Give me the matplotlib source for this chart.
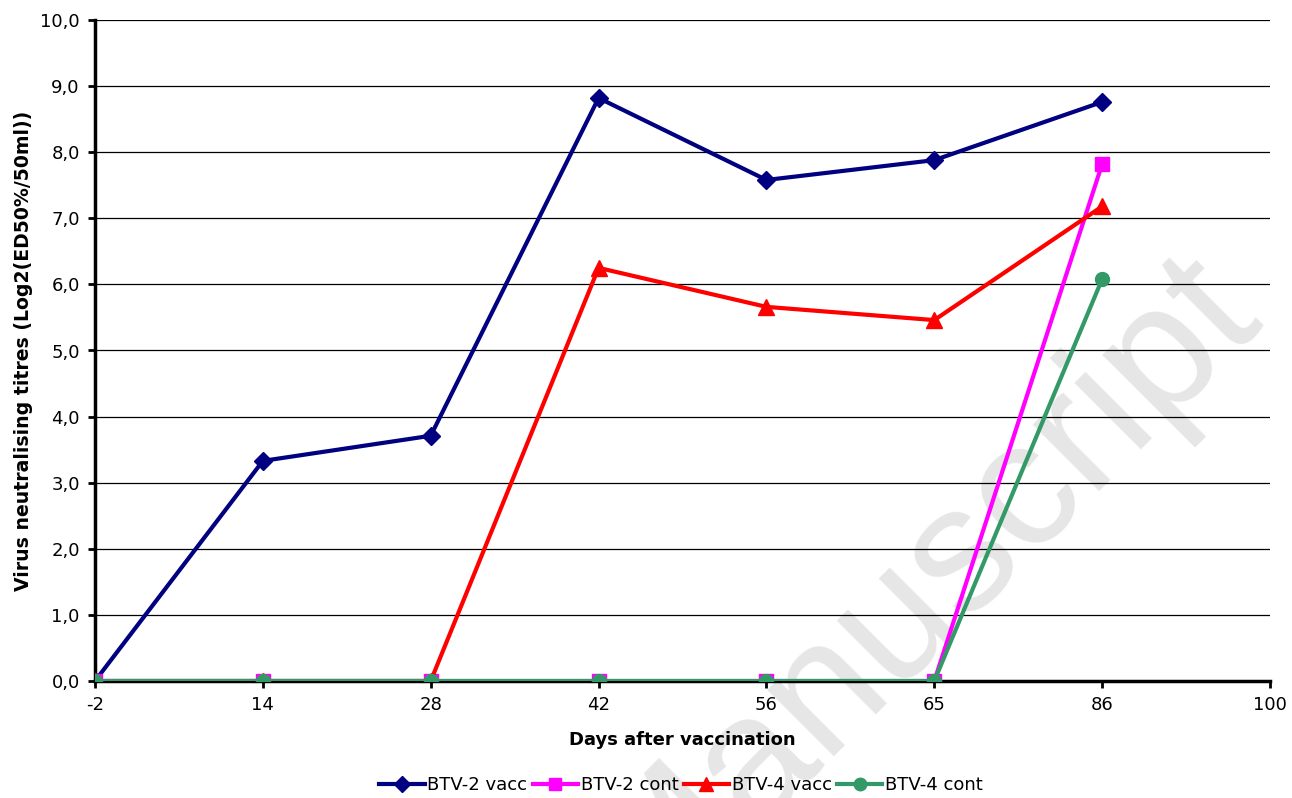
import numpy as np
import matplotlib
matplotlib.use('Agg')
import matplotlib.pyplot as plt

# days after vaccination (categorical axis)
days = ['-2', '14', '28', '42', '56', '65', '86', '100']

btv2_vacc = [0.0, 3.33, 3.71, 8.82, 7.58, 7.88, 8.76]
btv2_cont = [0.0, 0.0, 0.0, 0.0, 0.0, 0.0, 7.82]
btv4_vacc = [0.0, 0.0, 0.0, 6.25, 5.66, 5.46, 7.18]
btv4_cont = [0.0, 0.0, 0.0, 0.0, 0.0, 0.0, 6.08]

yticks = np.arange(0, 11)
ylabels = ['{:.1f}'.format(v).replace('.', ',') for v in yticks]

plt.rcParams['font.family'] = ['DejaVu Sans']

fig = plt.figure(figsize=(12.92, 7.98), dpi=100)
ax = fig.add_axes([95/1292, 1-681/798, (1270-95)/1292, (681-20)/798])
ax.patch.set_alpha(0)

# watermark
ax.text(1262/1292, 1-314/798, 'Manuscript', transform=fig.transFigure,
        fontsize=128, color='#e6e6e6', rotation=45, rotation_mode='anchor',
        family='Liberation Sans', ha='right', va='baseline', zorder=0, clip_on=False)

x = np.arange(len(btv2_vacc))
lw = 3
ms = 10
ax.plot(x, btv2_vacc, color='#000080', lw=lw, marker='D', ms=ms*0.9, label='BTV-2 vacc', zorder=3)
ax.plot(x, btv2_cont, color='#ff00ff', lw=lw, marker='s', ms=ms, label='BTV-2 cont', zorder=3)
ax.plot(x, btv4_vacc, color='#ff0000', lw=lw, marker='^', ms=ms*1.1, label='BTV-4 vacc', zorder=3)
ax.plot(x, btv4_cont, color='#339966', lw=lw, marker='o', ms=ms, label='BTV-4 cont', zorder=3)

ax.set_xlim(0, len(days)-1)
ax.set_ylim(0, 10)
ax.set_xticks(np.arange(len(days)))
ax.set_xticklabels(days)
ax.set_yticks(yticks)
ax.set_yticklabels(ylabels)
ax.tick_params(axis='both', direction='out', length=5, width=2, labelsize=13, pad=6)

for y in yticks[1:]:
    ax.axhline(y, color='black', lw=0.9, zorder=1)

for s in ['top', 'right']:
    ax.spines[s].set_visible(False)
for s in ['left', 'bottom']:
    ax.spines[s].set_linewidth(2.5)
    ax.spines[s].set_zorder(2)

ax.set_xlabel('Days after vaccination', fontsize=13, fontweight='bold', labelpad=12)
ax.set_ylabel('Virus neutralising titres (Log2(ED50%/50ml))', fontsize=13.6, fontweight='bold', labelpad=5)

fig.legend(loc='center', bbox_to_anchor=(681/1292, 1-785/798), ncol=4, frameon=False,
           fontsize=13, handlelength=2.5, handletextpad=0.15, columnspacing=0.3,
           markerscale=0.9)

fig.savefig('out.png', dpi=100)
